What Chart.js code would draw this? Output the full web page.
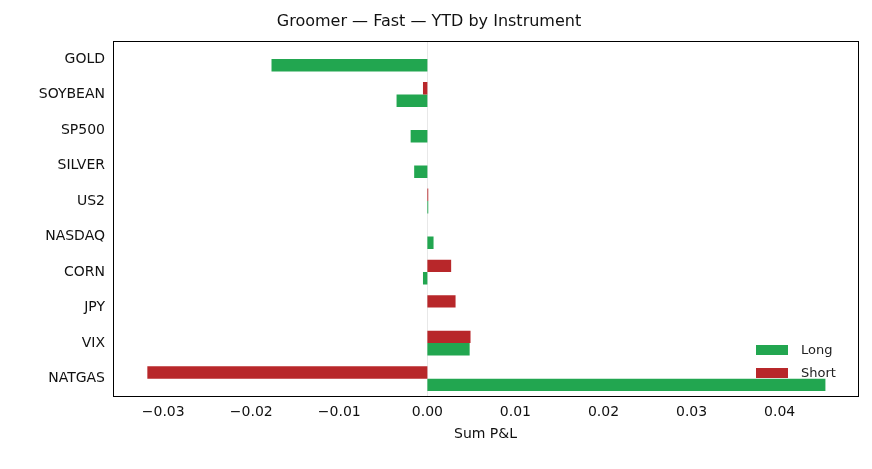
<!DOCTYPE html>
<html><head><meta charset="utf-8">
<script src="https://cdn.jsdelivr.net/npm/chart.js@4"></script>
<style>html,body{margin:0;padding:0;background:#fff}#w{width:872px;height:469px}</style>
</head><body><div id="w"><canvas id="c" width="872" height="469"></canvas></div>
<script>
const categories = ["GOLD","SOYBEAN","SP500","SILVER","US2","NASDAQ","CORN","JPY","VIX","NATGAS"];
const longValues = [-0.0177,-0.0035,-0.0019,-0.0015,0.0001,0.0007,-0.0005,0.0000,0.0048,0.0452];
const shortValues = [0.0000,-0.0005,0.0000,0.0000,0.0001,0.0000,0.0027,0.0032,0.0049,-0.0318];
const xTicks = [-0.03,-0.02,-0.01,0.0,0.01,0.02,0.03,0.04];
const GREEN = "#22a650", RED = "#b8272a";
const F = "DejaVu Sans";
const deco = {
  id:'deco',
  beforeDatasetsDraw(ch){
    const {ctx, chartArea:a, scales:{x}} = ch;
    ctx.save(); ctx.strokeStyle="#e8e8e8"; ctx.lineWidth=1;
    const z=Math.round(x.getPixelForValue(0))+0.5;
    ctx.beginPath(); ctx.moveTo(z,a.top); ctx.lineTo(z,a.bottom); ctx.stroke(); ctx.restore();
  },
  afterDraw(ch){
    const {ctx, chartArea:a} = ch;
    ctx.save(); ctx.strokeStyle="#000"; ctx.lineWidth=1;
    ctx.strokeRect(Math.round(a.left)+0.5,Math.round(a.top)+0.5,Math.round(a.right-a.left),Math.round(a.bottom-a.top));
    ctx.font="13px "+F; ctx.textBaseline="middle"; ctx.fillStyle="#222";
    const items=[["Long",GREEN],["Short",RED]];
    items.forEach((it,i)=>{
      const y=350+i*23;
      ctx.fillStyle=it[1]; ctx.fillRect(756,y-5,32,10);
      ctx.fillStyle="#222"; ctx.fillText(it[0],801,y+1);
    });
    ctx.restore();
  }
};
new Chart(document.getElementById('c'),{
  type:'bar',
  data:{labels:categories,datasets:[
    {label:'Short',data:shortValues,backgroundColor:RED,categoryPercentage:0.7,barPercentage:1},
    {label:'Long',data:longValues,backgroundColor:GREEN,categoryPercentage:0.7,barPercentage:1}
  ]},
  options:{
    indexAxis:'y',responsive:false,animation:false,
    layout:{padding:{left:0,right:14,top:0,bottom:22}},
    plugins:{legend:{display:false},tooltip:{enabled:false},
      title:{display:true,text:"Groomer — Fast — YTD by Instrument",color:"#111",font:{family:F,size:16,weight:'normal'},padding:{top:12,bottom:10}}},
    scales:{
      x:{min:-0.0357,max:0.0489,
        afterBuildTicks(s){s.ticks=xTicks.map(v=>({value:v}));},
        ticks:{color:"#111",font:{family:F,size:14},callback:v=>{const t=(Math.abs(v)<1e-9?0:v).toFixed(2);return t.replace('-','\u2212');}},
        grid:{display:false,drawTicks:true,tickLength:5,tickColor:'#000'},border:{display:false},
        title:{display:true,text:"Sum P&L",color:"#111",font:{family:F,size:14},padding:{top:2}}},
      y:{afterFit(s){s.width=113;},ticks:{color:"#111",font:{family:F,size:14}},grid:{display:false,tickLength:5,tickColor:'#000'},border:{display:false}}
    }
  },
  plugins:[deco]
});
</script></body></html>
